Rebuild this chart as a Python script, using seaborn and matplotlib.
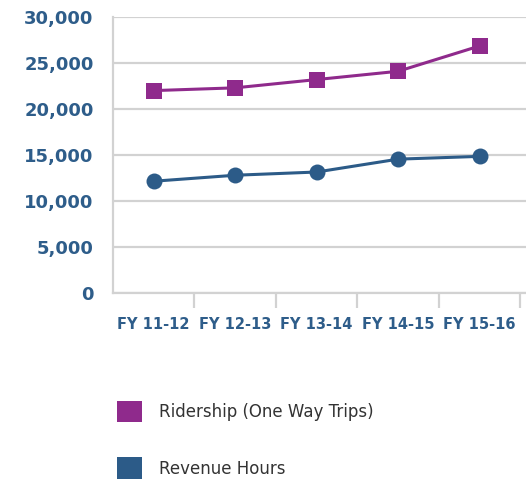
import numpy as np
import pandas as pd
import matplotlib
matplotlib.use("Agg")
import matplotlib.pyplot as plt
from matplotlib.patches import Patch
import seaborn as sns

sns.set_style("white")

# data
years = ["FY 11-12", "FY 12-13", "FY 13-14", "FY 14-15", "FY 15-16"]
ridership = [22000, 22300, 23200, 24100, 26850]
revenue_hours = [12150, 12800, 13150, 14550, 14850]
series_names = ["Ridership (One Way Trips)", "Revenue Hours"]

purple = "#8f2a8c"
blue = "#2c5b88"
label_blue = "#2e5d8a"
grid_gray = "#d2d2d2"

df = pd.DataFrame({
    "year": years * 2,
    "value": ridership + revenue_hours,
    "series": [series_names[0]] * len(years) + [series_names[1]] * len(years),
})
df["x"] = df["year"].map({y: i for i, y in enumerate(years)})

fig = plt.figure(figsize=(5.26, 4.79), dpi=100)
ax = fig.add_axes([113 / 526, 1 - 293 / 479, 1 - 113 / 526, (293 - 17) / 479])

sns.lineplot(data=df, x="x", y="value", hue="series", style="series",
             palette=[purple, blue], markers=["s", "o"], dashes=False,
             linewidth=2.2, markersize=11.5, markeredgewidth=0, legend=False, ax=ax)

ax.set_xlim(-0.5, 4.57)
ax.set_ylim(0, 30000)
ax.set_yticks(np.arange(0, 30001, 5000))
ax.set_yticklabels([f"{v:,}" for v in range(0, 30001, 5000)])
ax.set_xticks(range(len(years)))
ax.set_xticklabels(years)
ax.set_xticks(np.arange(0.5, len(years), 1.0), minor=True)

ax.set_xlabel("")
ax.set_ylabel("")

ax.yaxis.grid(True, color=grid_gray, linewidth=1.6)
ax.xaxis.grid(False)
ax.set_axisbelow(True)
for side in ["top", "right"]:
    ax.spines[side].set_visible(False)
for side in ["left", "bottom"]:
    ax.spines[side].set_color(grid_gray)
    ax.spines[side].set_linewidth(1.6)

ax.tick_params(axis="y", length=0, pad=14, labelsize=13, labelcolor=label_blue)
ax.tick_params(axis="x", which="major", length=0, pad=17, labelsize=10.5,
               labelcolor=label_blue)
ax.tick_params(axis="x", which="minor", bottom=True, length=11, width=1.6,
               color=grid_gray, direction="out")
for lbl in ax.get_xticklabels() + ax.get_yticklabels():
    lbl.set_fontweight("bold")

handles = [Patch(facecolor=purple, edgecolor="none"),
           Patch(facecolor=blue, edgecolor="none")]
fig.legend(handles, series_names, loc="upper left",
           bbox_to_anchor=(117 / 526, 1 - 401 / 479), frameon=False,
           fontsize=12, handlelength=1.5, handleheight=1.6,
           handletextpad=1.0, labelspacing=2.1, borderpad=0, borderaxespad=0,
           labelcolor="#333333")

fig.savefig("out.png", dpi=100)
